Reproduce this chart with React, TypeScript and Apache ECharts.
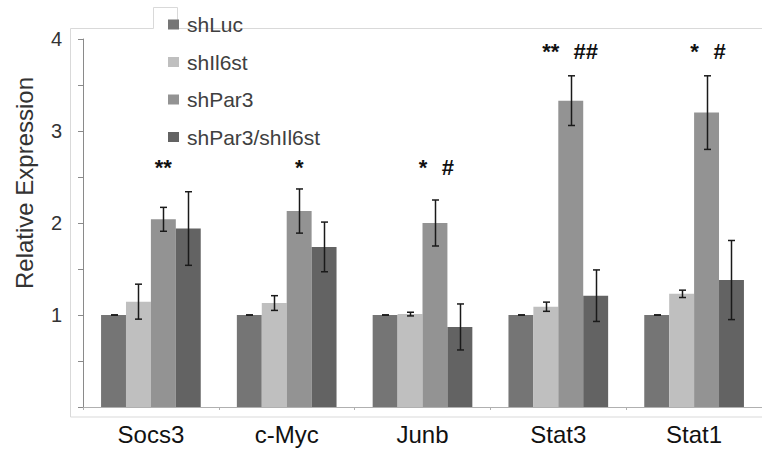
import { useEffect, useRef } from 'react';
import * as echarts from 'echarts';

const categories = ['Socs3', 'c-Myc', 'Junb', 'Stat3', 'Stat1'];
const seriesNames = ['shLuc', 'shIl6st', 'shPar3', 'shPar3/shIl6st'];

const shLuc = [1, 1, 1, 1, 1];
const shLucErr = [0, 0, 0, 0, 0];
const shIl6st = [1.145, 1.13, 1.01, 1.09, 1.23];
const shIl6stErr = [0.19, 0.08, 0.02, 0.05, 0.04];
const shPar3 = [2.04, 2.13, 2.0, 3.33, 3.2];
const shPar3Err = [0.13, 0.24, 0.25, 0.27, 0.4];
const shPar3shIl6st = [1.94, 1.74, 0.87, 1.21, 1.38];
const shPar3shIl6stErr = [0.4, 0.27, 0.25, 0.28, 0.43];

const starLabels = ['**', '*', '*', '**', '*'];
const hashLabels = ['', '', '#', '##', '#'];
const annotY = [2.6, 2.6, 2.6, 3.865, 3.865];

const yTicks = [0, 1, 2, 3, 4];

const colors = ['#757575', '#bfbfbf', '#939393', '#636363'];
const FONT = 'Liberation Sans, Arial, sans-serif';
const CAT_GAP = 0.266;

export default function App() {
  const ref = useRef<HTMLDivElement>(null);

  useEffect(() => {
    document.body.style.margin = '0';
    const chart = echarts.init(ref.current!, null, { renderer: 'svg' });

    const values = [shLuc, shIl6st, shPar3, shPar3shIl6st];
    const errs = [shLucErr, shIl6stErr, shPar3Err, shPar3shIl6stErr];

    const errData: number[][] = [];
    values.forEach((arr, s) => {
      arr.forEach((v, c) => errData.push([c, s, v, errs[s][c]]));
    });

    const barSeries = seriesNames.map((name, s) => ({
      name,
      type: 'bar',
      data: values[s],
      barGap: '0%',
      barCategoryGap: CAT_GAP * 100 + '%',
      itemStyle: { color: colors[s] },
      z: 2,
    }));

    const option: any = {
      animation: false,
      textStyle: { fontFamily: FONT },
      grid: { left: 83, top: 39, width: 681, height: 368, containLabel: false },
      legend: {
        orient: 'vertical',
        left: 163,
        top: 9,
        itemWidth: 11,
        itemHeight: 10,
        itemGap: 16.5,
        icon: 'rect',
        data: seriesNames,
        textStyle: { fontSize: 21, color: '#404040', fontFamily: FONT, padding: [0, 0, 0, 3] },
      },
      xAxis: {
        type: 'category',
        data: categories,
        axisLine: { lineStyle: { color: '#b0b0b0', width: 1 } },
        axisTick: { show: true, length: 3, lineStyle: { color: '#b0b0b0' } },
        axisLabel: { fontSize: 24, color: '#111', margin: 15, fontFamily: FONT },
        splitLine: { show: false },
      },
      yAxis: {
        type: 'value',
        min: yTicks[0],
        max: yTicks[yTicks.length - 1],
        interval: 1,
        axisLine: { show: true, lineStyle: { color: '#8a8a8a', width: 1 } },
        axisTick: { show: true, length: 5, lineStyle: { color: '#8a8a8a' } },
        minorTick: { show: true, splitNumber: 2, length: 5, lineStyle: { color: '#8a8a8a' } },
        axisLabel: {
          fontSize: 20,
          color: '#333',
          margin: 21,
          fontFamily: FONT,
          formatter: (v: number) => (v === 0 ? '' : String(v)),
        },
        splitLine: { show: false },
      },
      graphic: [
        {
          type: 'polyline',
          z: -1,
          shape: {
            points: [
              [770, 417], [70.5, 417], [70.5, 28.5], [153.5, 28.5], [153.5, 7.5],
              [177.5, 7.5], [177.5, 28.5], [770, 28.5],
            ],
          },
          style: { stroke: '#d9d9d9', fill: null, lineWidth: 1 },
        },
        {
          type: 'text',
          x: 24,
          y: 183,
          rotation: Math.PI / 2,
          style: {
            text: 'Relative Expression',
            fontSize: 24,
            fontFamily: FONT,
            fill: '#333',
            align: 'center',
            verticalAlign: 'middle',
          },
        },
      ],
      series: [
        ...barSeries,
        {
          type: 'custom',
          name: 'errors',
          data: errData,
          encode: { x: 0, y: 2 },
          z: 5,
          clip: false,
          silent: true,
          renderItem: (params: any, api: any) => {
            const c = api.value(0);
            const s = api.value(1);
            const v = api.value(2);
            const e = api.value(3);
            const band = api.size([1, 0])[0];
            const barW = (band * (1 - CAT_GAP)) / 4;
            const cx = Math.round(api.coord([c, 0])[0] - 2 * barW + (s + 0.5) * barW) + 0.5;
            const yT = api.coord([c, v + e])[1];
            const yB = api.coord([c, v - e])[1];
            const hw = 3.5;
            const st = { stroke: '#1a1a1a', lineWidth: 1.5 };
            return {
              type: 'group',
              children: [
                { type: 'line', shape: { x1: cx, y1: yT, x2: cx, y2: yB }, style: st },
                { type: 'line', shape: { x1: cx - hw, y1: yT, x2: cx + hw, y2: yT }, style: st },
                { type: 'line', shape: { x1: cx - hw, y1: yB, x2: cx + hw, y2: yB }, style: st },
              ],
            };
          },
        },
        {
          type: 'custom',
          name: 'annotations',
          data: annotY.map((y, c) => [c, y]),
          encode: { x: 0, y: 1 },
          z: 6,
          clip: false,
          silent: true,
          renderItem: (params: any, api: any) => {
            const i = params.dataIndex;
            const c = api.value(0);
            const y = api.value(1);
            const band = api.size([1, 0])[0];
            const barW = (band * (1 - CAT_GAP)) / 4;
            const [px, py] = api.coord([c, y]);
            const center = px - 2 * barW + 2.5 * barW;
            const star = starLabels[i];
            const hash = hashLabels[i];
            const starDx = hash ? (star.length > 1 ? -20 : -12) : 0;
            const hashDx = hash.length > 1 ? 15 : 13;
            const ts = {
              fontSize: 22,
              fontWeight: 'bold',
              fontFamily: FONT,
              fill: '#111',
              align: 'center',
              verticalAlign: 'middle',
            };
            const children: any[] = [
              { type: 'text', x: center + starDx, y: py, style: { ...ts, text: star } },
            ];
            if (hash) {
              children.push({ type: 'text', x: center + hashDx, y: py, style: { ...ts, text: hash } });
            }
            return { type: 'group', children };
          },
        },
      ],
    };

    chart.setOption(option);
    return () => chart.dispose();
  }, []);

  return <div ref={ref} style={{ width: 762, height: 450 }} />;
}
